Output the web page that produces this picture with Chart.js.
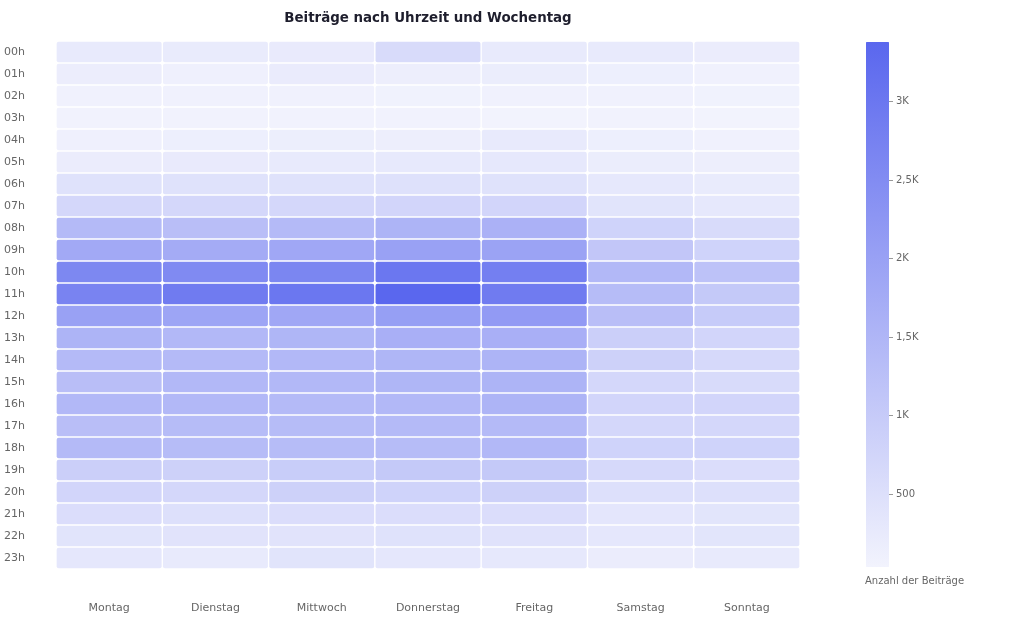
<!DOCTYPE html>
<html>
<head>
<meta charset="utf-8">
<script src="https://cdn.jsdelivr.net/npm/chart.js@4/dist/chart.umd.min.js"></script>
<style>
  html, body { margin: 0; padding: 0; background: #fff; }
  #wrap { position: relative; width: 1024px; height: 622px; }
  #main { position: absolute; left: 0; top: 0; }
  #bar { position: absolute; left: 850px; top: 0; }
</style>
</head>
<body>
<div id="wrap">
  <canvas id="main" width="1024" height="622"></canvas>
  <canvas id="bar" width="174" height="622"></canvas>
</div>
<script>
const days = ['Montag', 'Dienstag', 'Mittwoch', 'Donnerstag', 'Freitag', 'Samstag', 'Sonntag'];
const hours = ['00h','01h','02h','03h','04h','05h','06h','07h','08h','09h','10h','11h','12h','13h','14h','15h','16h','17h','18h','19h','20h','21h','22h','23h'];

const montag     = [250,170,90,60,110,200,450,700,1400,1800,2600,2700,2000,1550,1400,1300,1450,1300,1400,900,750,550,400,330];
const dienstag   = [230,100,80,50,140,240,450,700,1300,1750,2550,2900,1900,1450,1400,1450,1450,1350,1350,850,700,500,420,260];
const mittwoch   = [240,220,80,60,160,250,450,700,1400,1850,2650,3000,1850,1500,1450,1450,1400,1350,1350,950,850,550,420,400];
const donnerstag = [600,150,70,50,150,270,470,750,1550,2000,3000,3380,2050,1650,1500,1500,1450,1400,1350,1050,800,550,450,320];
const freitag    = [250,180,90,40,250,300,450,750,1600,1950,2800,2900,2150,1650,1550,1550,1550,1400,1450,1050,850,550,430,300];
const samstag    = [250,140,90,60,140,180,300,400,800,1100,1450,1350,1300,900,850,700,750,700,800,650,500,350,320,200];
const sonntag    = [200,90,70,35,80,150,230,300,600,800,1200,1050,1000,750,650,600,750,700,800,550,500,380,380,250];

const colorbarTicks = [500, 1000, 1500, 2000, 2500, 3000];

const byDay = [montag, dienstag, mittwoch, donnerstag, freitag, samstag, sonntag];
const allVals = byDay.flat();
const vMin = Math.min(...allVals);
const vMax = Math.max(...allVals);

const cLow = [242, 243, 253];
const cHigh = [90, 103, 238];
function colorFor(v) {
  const t = Math.max(0, Math.min(1, (v - vMin) / (vMax - vMin)));
  const c = cLow.map((a, i) => Math.round(a + (cHigh[i] - a) * t));
  return `rgb(${c[0]},${c[1]},${c[2]})`;
}

const FONT = '"DejaVu Sans", sans-serif';

const datasets = hours.map((h, hi) => ({
  label: h,
  data: days.map(() => [hi, hi + 1]),
  backgroundColor: (ctx) => colorFor(byDay[ctx.dataIndex][hi]),
  borderColor: '#ffffff',
  borderWidth: 1,
  borderSkipped: false,
  borderRadius: 3,
  grouped: false,
  barPercentage: 1,
  categoryPercentage: 1
}));

const titlePlugin = {
  id: 'centerTitle',
  afterDraw(chart) {
    const { ctx, chartArea } = chart;
    ctx.save();
    ctx.font = 'bold 13.4px ' + FONT;
    ctx.fillStyle = '#1e1e2d';
    ctx.textAlign = 'center';
    ctx.textBaseline = 'middle';
    ctx.fillText('Beiträge nach Uhrzeit und Wochentag', (chartArea.left + chartArea.right) / 2, 19);
    ctx.restore();
  }
};

new Chart(document.getElementById('main'), {
  type: 'bar',
  data: { labels: days, datasets },
  plugins: [titlePlugin],
  options: {
    responsive: false,
    animation: false,
    events: [],
    layout: { padding: { left: 4, right: 224, top: 41, bottom: 7 } },
    plugins: { legend: { display: false }, tooltip: { enabled: false }, title: { display: false } },
    scales: {
      x: {
        grid: { display: false, drawTicks: false },
        border: { display: false },
        afterFit(scale) { scale.height = 46; },
        ticks: { color: '#666', font: { family: FONT, size: 11 }, padding: 33, maxRotation: 0, minRotation: 0 }
      },
      y: {
        type: 'linear',
        min: 0,
        max: 24,
        reverse: true,
        grid: { display: false, drawTicks: false },
        border: { display: false },
        afterBuildTicks(scale) {
          scale.ticks = hours.map((h, i) => ({ value: i + 0.5 }));
        },
        afterFit(scale) { scale.width = 52; },
        ticks: {
          crossAlign: 'far',
          color: '#666',
          font: { family: FONT, size: 11 },
          callback: (v) => hours[Math.floor(v)]
        }
      }
    }
  }
});

const barLabelPlugin = {
  id: 'barLabel',
  afterDraw(chart) {
    const { ctx, chartArea } = chart;
    ctx.save();
    ctx.font = '10px ' + FONT;
    ctx.fillStyle = '#666';
    ctx.textAlign = 'left';
    ctx.textBaseline = 'middle';
    ctx.fillText('Anzahl der Beiträge', chartArea.left - 1, 581);
    ctx.restore();
  }
};

new Chart(document.getElementById('bar'), {
  type: 'bar',
  data: {
    labels: [''],
    datasets: [{
      data: [[vMin, vMax]],
      backgroundColor: (ctx) => {
        const ca = ctx.chart.chartArea;
        if (!ca) return colorFor(vMax);
        const g = ctx.chart.ctx.createLinearGradient(0, ca.bottom, 0, ca.top);
        g.addColorStop(0, colorFor(vMin));
        g.addColorStop(1, colorFor(vMax));
        return g;
      },
      borderWidth: 0,
      borderSkipped: false,
      borderRadius: 2,
      barPercentage: 1,
      categoryPercentage: 1
    }]
  },
  plugins: [barLabelPlugin],
  options: {
    responsive: false,
    animation: false,
    events: [],
    layout: { padding: { left: 16, right: 85, top: 42, bottom: 55 } },
    plugins: { legend: { display: false }, tooltip: { enabled: false } },
    scales: {
      x: { display: false },
      y: {
        type: 'linear',
        position: 'right',
        min: vMin,
        max: vMax,
        afterBuildTicks(scale) {
          scale.ticks = colorbarTicks.map(v => ({ value: v }));
        },
        afterFit(scale) { scale.width = 50; },
        border: { display: false },
        grid: { drawOnChartArea: false, tickLength: 4, color: '#999' },
        ticks: {
          color: '#666',
          padding: 3,
          font: { family: FONT, size: 10 },
          callback: (v) => v >= 1000 ? String(v / 1000).replace('.', ',') + 'K' : String(v)
        }
      }
    }
  }
});
</script>
</body>
</html>
